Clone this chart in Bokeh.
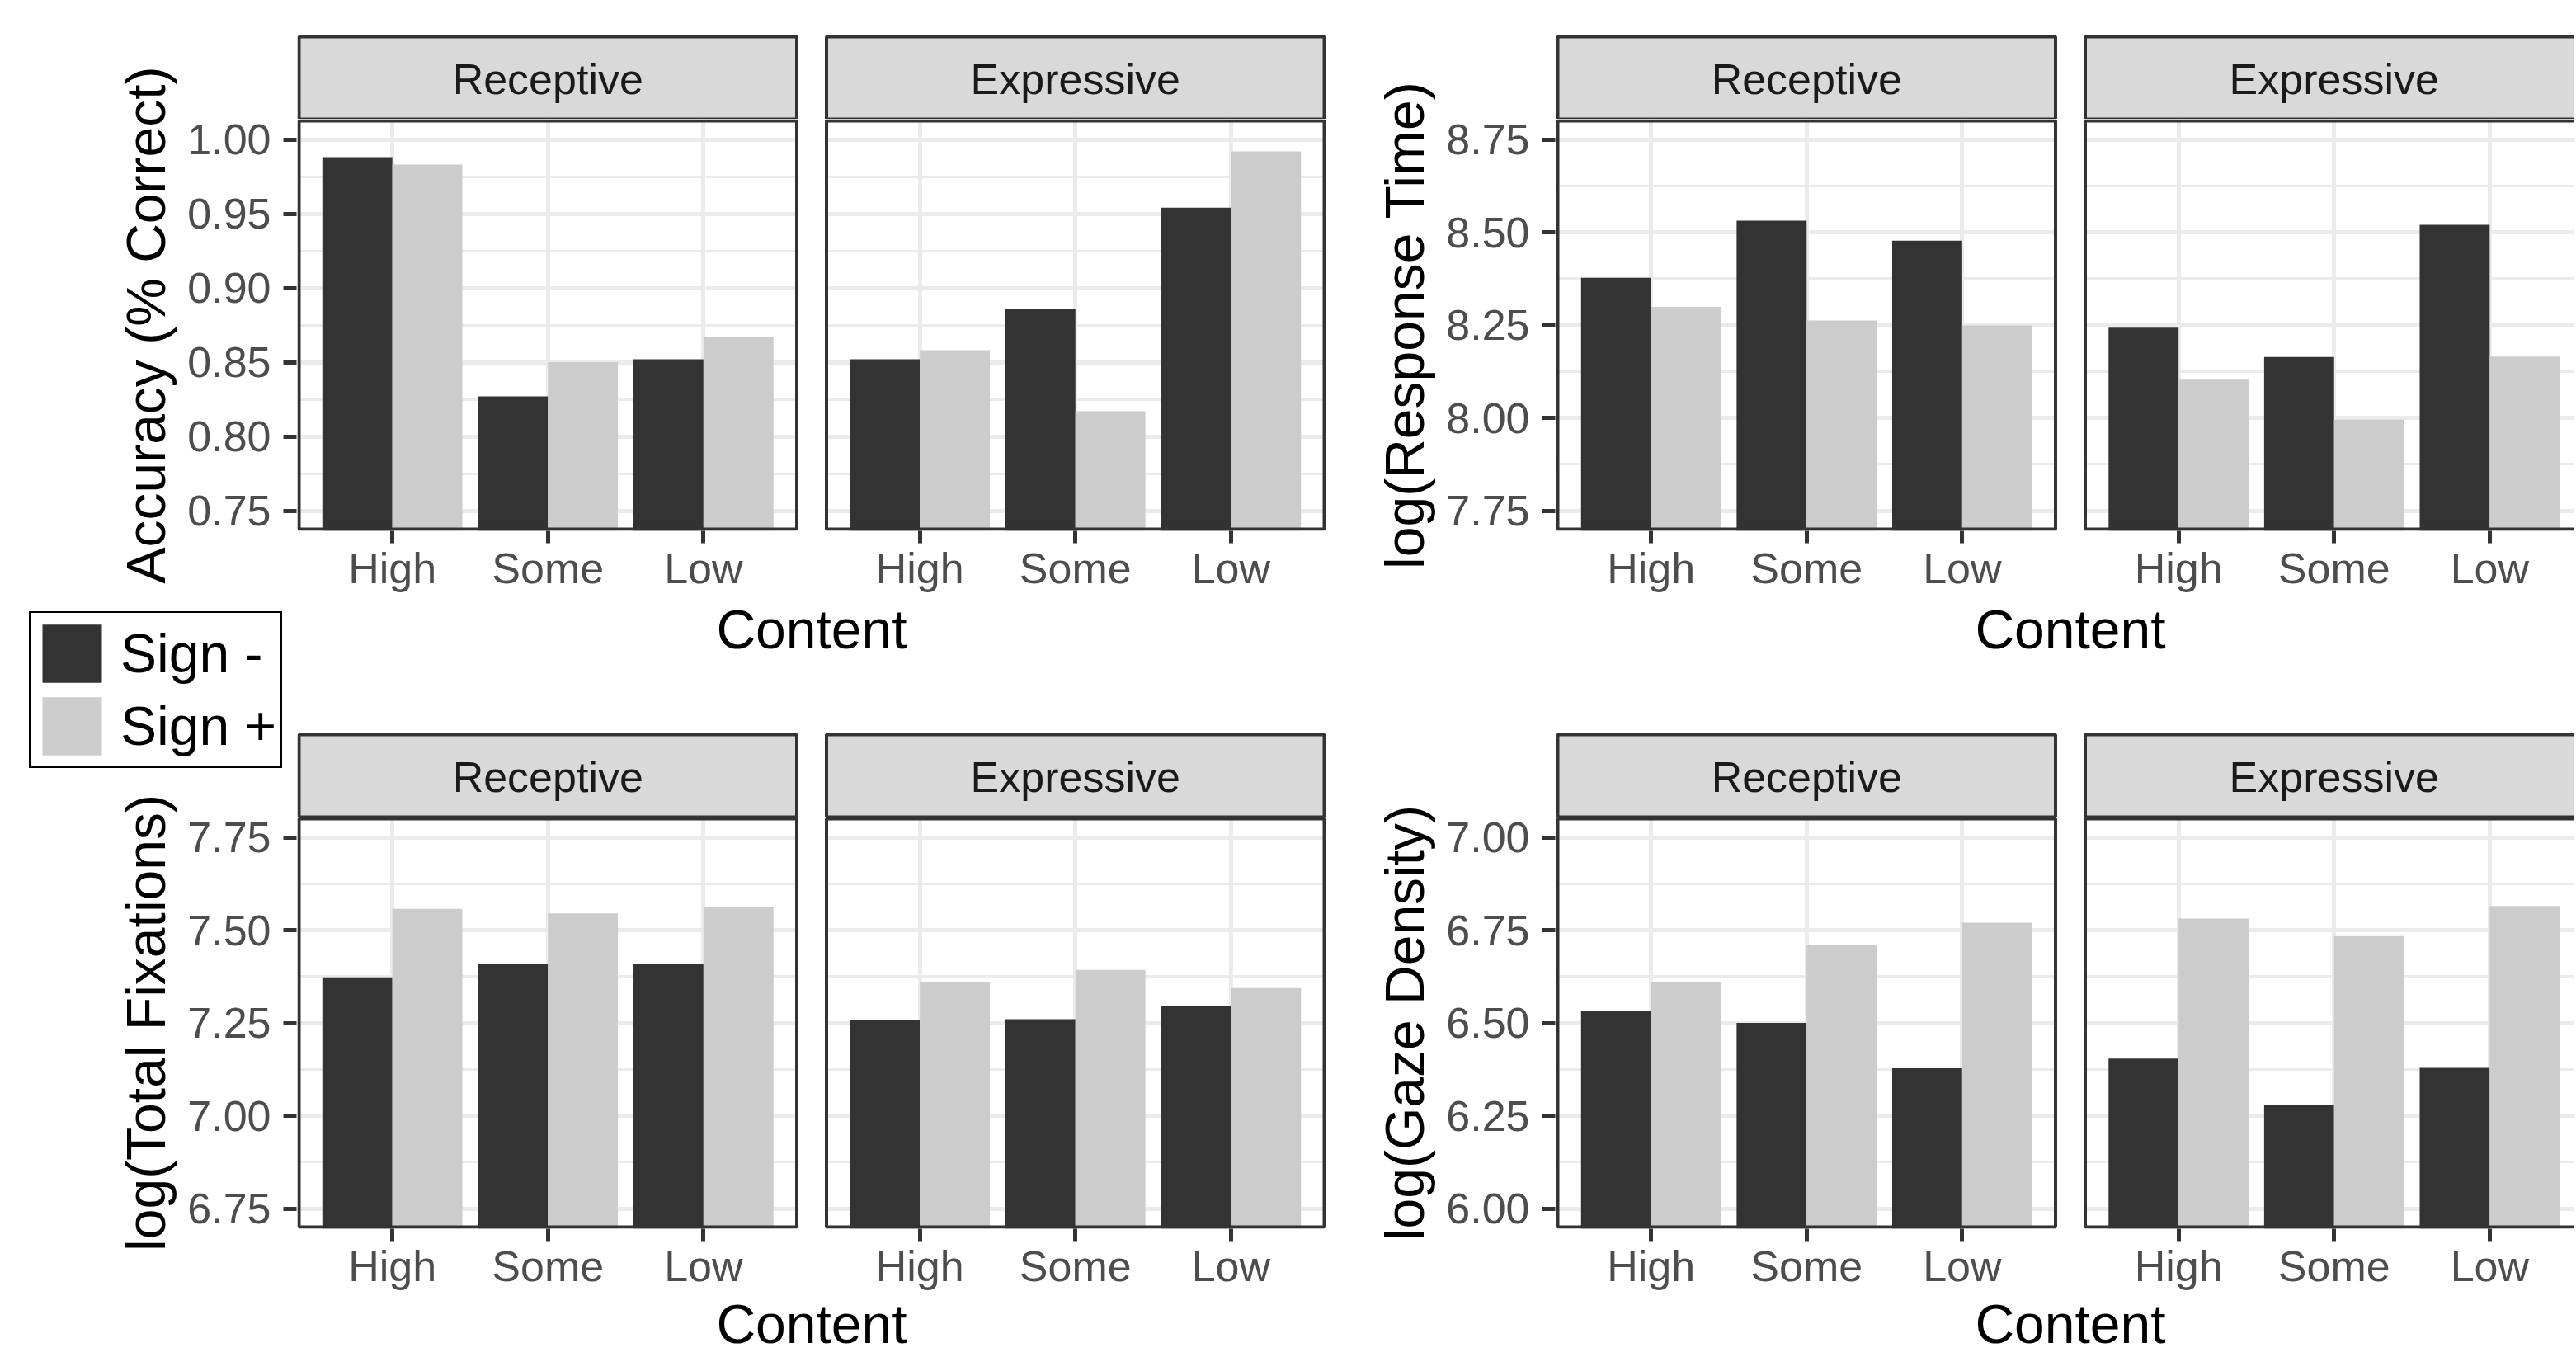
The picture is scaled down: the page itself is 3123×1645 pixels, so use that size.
from bokeh.plotting import figure
from bokeh.models import (Range1d, FixedTicker, PrintfTickFormatter, CustomJSTickFormatter,
                          BoxAnnotation, Label, Legend, LegendItem, ColumnDataSource, Grid, Spacer)
from bokeh.layouts import row, column
from bokeh.embed import file_html
from bokeh.resources import INLINE

# ---------------- data ----------------
contents = ["High", "Some", "Low"]
conditions = ["Receptive", "Expressive"]
signs = ["Sign -", "Sign +"]

acc_rec_minus = [0.988, 0.827, 0.852]
acc_rec_plus = [0.983, 0.850, 0.867]
acc_exp_minus = [0.852, 0.886, 0.954]
acc_exp_plus = [0.858, 0.817, 0.992]

rt_rec_minus = [8.377, 8.531, 8.477]
rt_rec_plus = [8.299, 8.262, 8.249]
rt_exp_minus = [8.243, 8.164, 8.520]
rt_exp_plus = [8.103, 7.995, 8.165]

fix_rec_minus = [7.373, 7.410, 7.408]
fix_rec_plus = [7.557, 7.545, 7.562]
fix_exp_minus = [7.258, 7.260, 7.295]
fix_exp_plus = [7.361, 7.393, 7.344]

gaze_rec_minus = [6.533, 6.500, 6.378]
gaze_rec_plus = [6.609, 6.711, 6.770]
gaze_exp_minus = [6.404, 6.278, 6.379]
gaze_exp_plus = [6.781, 6.734, 6.815]

acc_ticks = [0.75, 0.80, 0.85, 0.90, 0.95, 1.00]
rt_ticks = [7.75, 8.00, 8.25, 8.50, 8.75]
fix_ticks = [6.75, 7.00, 7.25, 7.50, 7.75]
gaze_ticks = [6.00, 6.25, 6.50, 6.75, 7.00]

acc_title = "Accuracy (% Correct)"
rt_title = "log(Response Time)"
fix_title = "log(Total Fixations)"
gaze_title = "log(Gaze Density)"
x_title = "Content"

# ---------------- style / layout ----------------
FONT = "Liberation Sans"
DARK = "#333333"
LIGHT = "#cccccc"
GRID = "#ebebeb"
TICK_TXT = "#4d4d4d"
STRIP_FILL = "#d9d9d9"
STRIP_TXT = "#1a1a1a"

DATA_H = 495          # pixel height of a panel's data area
EXT = 2               # frame reaches this many px beyond the panel on every side
FRAME_H = DATA_H + 2 * EXT
STRIP_H = 100
STRIP_MID = 49
GAP_PX = 36
LEFT_PANEL_W = 1243
X_PAD = 0.6
FACET_W = len(contents) - 1 + 2 * X_PAD
UNIT_PX = (LEFT_PANEL_W - GAP_PX) / (2 * FACET_W)
GAP = GAP_PX / UNIT_PX
X_START = 1 - X_PAD
BAR_W = 0.45
OFFSETS = [0.0, FACET_W + GAP]
XS = [i + 1 + off for off in OFFSETS for i in range(len(contents))]

COL1_W, COL2_W, COL3_W, COL4_W = 360, 1260, 266, 1235
COL2_BRIGHT = 13
BAND_A_H = 144
PANEL_BOTTOM = 79
PANEL_H = FRAME_H + PANEL_BOTTOM
BAND_C_H = 268
BAND_E_H = 75
LEG_H = 228
YAX_TOP_H = BAND_A_H + PANEL_H
YAX_BOT_TOP = BAND_C_H - LEG_H
YAX_BOT_H = YAX_BOT_TOP + PANEL_H + BAND_E_H
XTITLE_TOP_Y = 228
XTITLE_BOT_Y = 39


def plain(width, height, x_range, y_range, bl=0, br=0, bt=0, bb=0, xaxis=True, yaxis=True):
    kw = {}
    if not xaxis:
        kw["x_axis_type"] = None
    if not yaxis:
        kw["y_axis_type"] = None
    p = figure(width=width, height=height, x_range=x_range, y_range=y_range,
               output_backend="svg", toolbar_location=None,
               min_border_left=bl, min_border_right=br, min_border_top=bt, min_border_bottom=bb, **kw)
    p.outline_line_color = None
    p.background_fill_color = "white"
    p.border_fill_color = "white"
    return p


def x_range_for(frame_w):
    start = X_START - EXT / UNIT_PX
    return Range1d(start, start + frame_w / UNIT_PX)


def y_range_for(ticks):
    span = ticks[-1] - ticks[0]
    y0 = ticks[0] - 0.05 * span
    y1 = ticks[-1] + 0.05 * span
    ext = EXT * (y1 - y0) / DATA_H
    return Range1d(y0 - ext, y1 + ext)


def overlay(width, height):
    return plain(width, height, x_range_for(width), Range1d(0, 1), xaxis=False, yaxis=False)


def add_strips(p):
    for f, cond in enumerate(conditions):
        l = X_START + OFFSETS[f]
        r = l + FACET_W
        p.add_layout(BoxAnnotation(left=l, right=r, left_units="data", right_units="data",
                                   bottom=0, top=STRIP_H, bottom_units="screen", top_units="screen",
                                   fill_color=STRIP_FILL, fill_alpha=1,
                                   line_color=DARK, line_alpha=1, line_width=4))
        p.add_layout(Label(x=(l + r) / 2, y=STRIP_MID, x_units="data", y_units="screen",
                           text=cond, text_align="center", text_baseline="middle",
                           text_font=FONT, text_font_size="52px", text_color=STRIP_TXT))


def add_xtitle(p, y):
    xc = (X_START + X_START + 2 * FACET_W + GAP) / 2
    p.add_layout(Label(x=xc, y=y, x_units="data", y_units="screen", text=x_title,
                       text_align="center", text_baseline="middle",
                       text_font=FONT, text_font_size="66px", text_color="black"))


def yaxis_fig(title, ticks, yr, width, height, top, bottom):
    p = plain(width, height, Range1d(0, 1), yr, bl=width - 1, br=0, bt=top, bb=bottom, xaxis=False)
    p.ygrid.visible = False
    ax = p.yaxis[0]
    ax.ticker = FixedTicker(ticks=ticks)
    ax.formatter = PrintfTickFormatter(format="%.2f")
    ax.axis_line_color = None
    ax.major_tick_line_color = DARK
    ax.major_tick_line_width = 5
    ax.major_tick_out = 16
    ax.major_tick_in = 0
    ax.minor_tick_line_color = None
    ax.major_label_text_font = FONT
    ax.major_label_text_font_size = "52px"
    ax.major_label_text_color = TICK_TXT
    ax.major_label_standoff = 15
    ax.axis_label = title
    ax.axis_label_text_font = FONT
    ax.axis_label_text_font_size = "66px"
    ax.axis_label_text_font_style = "normal"
    ax.axis_label_text_color = "black"
    ax.axis_label_standoff = 10
    return p


def panel(ticks, yr, rec_minus, rec_plus, exp_minus, exp_plus, width, b_right):
    p = plain(width, PANEL_H, x_range_for(width - b_right), yr, br=b_right, bb=PANEL_BOTTOM,
              yaxis=False)
    minors = [(a + b) / 2 for a, b in zip(ticks[:-1], ticks[1:])]
    p.add_layout(Grid(dimension=1, ticker=FixedTicker(ticks=ticks, minor_ticks=minors),
                      grid_line_color=GRID, grid_line_width=5,
                      minor_grid_line_color=GRID, minor_grid_line_width=3))
    ax = p.xaxis[0]
    ax.ticker = FixedTicker(ticks=XS)
    ax.formatter = CustomJSTickFormatter(args=dict(labels=contents),
                                         code="return labels[index % labels.length]")
    ax.axis_line_color = None
    ax.major_tick_line_color = DARK
    ax.major_tick_line_width = 5
    ax.major_tick_out = 15
    ax.major_tick_in = 0
    ax.minor_tick_line_color = None
    ax.major_label_text_font = FONT
    ax.major_label_text_font_size = "52px"
    ax.major_label_text_color = TICK_TXT
    ax.major_label_standoff = 1
    p.xgrid.grid_line_color = GRID
    p.xgrid.grid_line_width = 5

    src_m = ColumnDataSource(dict(x=[x - BAR_W / 2 for x in XS], top=rec_minus + exp_minus))
    src_p = ColumnDataSource(dict(x=[x + BAR_W / 2 for x in XS], top=rec_plus + exp_plus))
    p.vbar(x="x", top="top", bottom=0, width=BAR_W, source=src_m, fill_color=DARK, line_color=None)
    p.vbar(x="x", top="top", bottom=0, width=BAR_W, source=src_p, fill_color=LIGHT, line_color=None)

    p.add_layout(BoxAnnotation(left=X_START + FACET_W, right=X_START + FACET_W + GAP,
                               left_units="data", right_units="data",
                               bottom=-5, top=FRAME_H + 5, bottom_units="screen", top_units="screen",
                               fill_color="white", fill_alpha=1, line_alpha=0))
    for f in range(len(conditions)):
        l = X_START + OFFSETS[f]
        p.add_layout(BoxAnnotation(left=l, right=l + FACET_W, left_units="data", right_units="data",
                                   bottom=EXT, top=FRAME_H - EXT,
                                   bottom_units="screen", top_units="screen",
                                   fill_alpha=0, line_color=DARK, line_alpha=1, line_width=4))
    return p


yr_acc, yr_rt = y_range_for(acc_ticks), y_range_for(rt_ticks)
yr_fix, yr_gaze = y_range_for(fix_ticks), y_range_for(gaze_ticks)

# ---- column 1: y axis of the left panels and the legend ----
y_tl = yaxis_fig(acc_title, acc_ticks, yr_acc, COL1_W, YAX_TOP_H, BAND_A_H, PANEL_BOTTOM)
y_bl = yaxis_fig(fix_title, fix_ticks, yr_fix, COL1_W, YAX_BOT_H, YAX_BOT_TOP, PANEL_BOTTOM + BAND_E_H)

# legend host: its bars lie far outside the visible ranges, only the legend shows
leg_fig = plain(COL1_W - 1, LEG_H, Range1d(-100, -99), Range1d(-100, -99), xaxis=False, yaxis=False)
lm = leg_fig.vbar(x=XS, top=fix_rec_minus + fix_exp_minus, width=BAR_W, fill_color=DARK,
                  line_color=None)
lp = leg_fig.vbar(x=XS, top=fix_rec_plus + fix_exp_plus, width=BAR_W, fill_color=LIGHT,
                  line_color=None)
leg = Legend(items=[LegendItem(label=signs[0], renderers=[lm]),
                    LegendItem(label=signs[1], renderers=[lp])],
             location=(35, 19), orientation="vertical")
leg.border_line_color = "black"
leg.border_line_width = 2
leg.border_line_alpha = 1
leg.background_fill_color = "white"
leg.background_fill_alpha = 1
leg.label_text_font = FONT
leg.label_text_font_size = "66px"
leg.label_text_color = "black"
leg.glyph_width = 90
leg.glyph_height = 88
leg.spacing = 0
leg.padding = 5
leg.label_standoff = 14
leg.margin = 0
leg_fig.add_layout(leg)
col1 = column(y_tl, row(leg_fig, Spacer(width=1, height=LEG_H)), y_bl)

# ---- column 2: left panels ----
a_l = overlay(COL2_W - COL2_BRIGHT, BAND_A_H)
add_strips(a_l)
tl = panel(acc_ticks, yr_acc, acc_rec_minus, acc_rec_plus, acc_exp_minus, acc_exp_plus,
           COL2_W, COL2_BRIGHT)
c_l = overlay(COL2_W - COL2_BRIGHT, BAND_C_H)
add_strips(c_l)
add_xtitle(c_l, XTITLE_TOP_Y)
bl = panel(fix_ticks, yr_fix, fix_rec_minus, fix_rec_plus, fix_exp_minus, fix_exp_plus,
           COL2_W, COL2_BRIGHT)
e_l = overlay(COL2_W - COL2_BRIGHT, BAND_E_H)
add_xtitle(e_l, XTITLE_BOT_Y)
col2 = column(row(a_l, Spacer(width=COL2_BRIGHT, height=BAND_A_H)), tl,
              row(c_l, Spacer(width=COL2_BRIGHT, height=BAND_C_H)), bl,
              row(e_l, Spacer(width=COL2_BRIGHT, height=BAND_E_H)))

# ---- column 3: y axis of the right panels ----
y_tr = yaxis_fig(rt_title, rt_ticks, yr_rt, COL3_W, YAX_TOP_H, BAND_A_H, PANEL_BOTTOM)
y_br = yaxis_fig(gaze_title, gaze_ticks, yr_gaze, COL3_W, YAX_BOT_H, YAX_BOT_TOP, PANEL_BOTTOM + BAND_E_H)
col3 = column(y_tr, Spacer(width=COL3_W, height=LEG_H), y_br)

# ---- column 4: right panels ----
a_r = overlay(COL4_W, BAND_A_H)
add_strips(a_r)
tr = panel(rt_ticks, yr_rt, rt_rec_minus, rt_rec_plus, rt_exp_minus, rt_exp_plus, COL4_W, 0)
c_r = overlay(COL4_W, BAND_C_H)
add_strips(c_r)
add_xtitle(c_r, XTITLE_TOP_Y)
br = panel(gaze_ticks, yr_gaze, gaze_rec_minus, gaze_rec_plus, gaze_exp_minus, gaze_exp_plus,
           COL4_W, 0)
e_r = overlay(COL4_W, BAND_E_H)
add_xtitle(e_r, XTITLE_BOT_Y)
col4 = column(a_r, tr, c_r, br, e_r)

layout = row(col1, col2, col3, col4)
open("out.html", "w").write(file_html(layout, INLINE))
